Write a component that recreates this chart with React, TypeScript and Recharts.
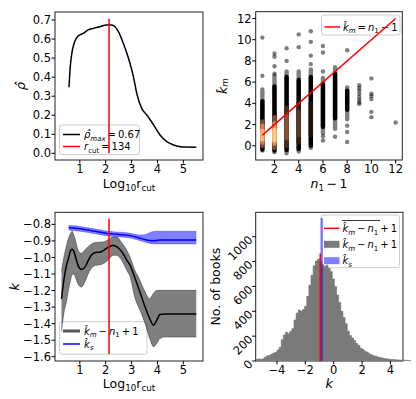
import React from "react";
import {
  ComposedChart,
  Line,
  Area,
  Scatter,
  XAxis,
  YAxis,
  ReferenceLine,
  ReferenceArea,
} from "recharts";

// ---- top-left: rho-hat vs log10 r_cut ----
const rhoX = [0.58, 0.63, 0.71, 0.8, 0.93, 1.13, 1.32, 1.52, 1.77, 2.03, 2.23, 2.36, 2.49, 2.68, 2.88, 3.07, 3.2, 3.39, 3.59, 3.85, 4.1, 4.36, 4.62, 4.88, 5.07, 5.5];
const rhoY = [0.347, 0.455, 0.54, 0.586, 0.616, 0.63, 0.648, 0.656, 0.665, 0.674, 0.674, 0.665, 0.639, 0.578, 0.499, 0.403, 0.315, 0.236, 0.201, 0.149, 0.096, 0.061, 0.044, 0.035, 0.033, 0.032];
const rCut = 134;
const rhoMax = 0.67;
const rhoLineTop = 0.707;
const logTicks = [1, 2, 3, 4, 5];
const rhoTicks = [0, 0.1, 0.2, 0.3, 0.4, 0.5, 0.6, 0.7];

// ---- top-right: k_m vs n1 - 1 ----
const colX = [1, 2, 3, 4, 5, 6, 7, 8];
const spreadLo = [-0.45, -0.6, -0.7, -0.55, -0.2, 1.2, 1.6, 2.5];
const spreadHi = [5.3, 6.6, 7.0, 7.0, 7.2, 6.4, 7.4, 5.5];
const coreLo = [-0.35, -0.45, -0.4, -0.3, 0.0, 1.8, 2.6, 3.4];
const coreHi = [4.2, 5.6, 6.5, 6.2, 6.5, 5.8, 6.8, 5.2];
const glowX = [1, 1, 1, 2, 2, 2, 3, 3, 4, 4, 5];
const glowLo = [0.0, 0.3, 0.6, -0.2, 0.2, 0.5, 0.0, 0.7, 0.3, 1.0, 1.0];
const glowHi = [2.3, 1.9, 1.4, 2.7, 2.1, 1.5, 3.6, 2.8, 4.0, 3.2, 4.0];
const glowDensity = [0.38, 0.65, 0.9, 0.38, 0.7, 1.0, 0.22, 0.42, 0.15, 0.28, 0.1];
const outlierX = [1, 1, 2, 2, 2, 2, 3, 3, 4, 4, 5, 5, 5, 5, 6, 6, 6, 6, 6, 7, 8, 8, 8, 8, 9, 9, 9, 9, 9, 9, 9, 9, 10, 10, 10, 10, 10, 10, 12];
const outlierY = [10.2, 6.6, 8.7, 8.4, 7.5, 6.8, 9.2, 8.0, 10.5, 9.3, 10.8, 9.8, 8.5, 7.7, 9.4, 8.8, 7.0, 0.9, 0.5, 0.85, 9.0, 1.9, 1.3, 0.35, 5.7, 5.45, 5.2, 4.9, 4.6, 4.35, 4.1, 3.95, 6.35, 4.9, 4.7, 4.4, 3.2, 2.7, 2.2];
const identityEnds = [1, 12];
const nTicks = [2, 4, 6, 8, 10, 12];
const kmTicks = [0, 2, 4, 6, 8, 10, 12];

// ---- bottom-left: k vs log10 r_cut ----
const kX = [0.29, 0.38, 0.48, 0.57, 0.64, 0.7, 0.76, 0.84, 0.93, 1.06, 1.19, 1.32, 1.45, 1.6, 1.8, 1.97, 2.12, 2.29, 2.42, 2.62, 2.81, 2.95, 3.12, 3.3, 3.5, 3.7, 3.85, 3.97, 4.1, 4.3, 5.5];
const kMean = [-1.25, -1.14, -1.05, -1.0, -0.96, -0.951, -0.96, -1.0, -1.048, -1.072, -1.06, -1.02, -0.985, -0.97, -0.967, -0.952, -0.937, -0.928, -0.935, -0.965, -1.015, -1.05, -1.12, -1.2, -1.29, -1.37, -1.41, -1.38, -1.345, -1.342, -1.342];
const kUpper = [-1.08, -1.0, -0.93, -0.88, -0.855, -0.842, -0.86, -0.9, -0.955, -0.975, -0.955, -0.935, -0.918, -0.91, -0.907, -0.903, -0.89, -0.876, -0.876, -0.91, -0.955, -1.0, -1.075, -1.13, -1.2, -1.25, -1.215, -1.2, -1.199, -1.199, -1.199];
const kLower = [-1.45, -1.34, -1.27, -1.19, -1.14, -1.105, -1.1, -1.125, -1.16, -1.179, -1.15, -1.1, -1.065, -1.048, -1.044, -1.032, -1.01, -0.987, -0.987, -1.018, -1.078, -1.12, -1.24, -1.31, -1.39, -1.49, -1.54, -1.52, -1.49, -1.481, -1.481];
const sMean = [null, null, null, -0.821, -0.821, -0.822, -0.822, -0.823, -0.825, -0.828, -0.831, -0.834, -0.838, -0.842, -0.847, -0.852, -0.856, -0.858, -0.86, -0.862, -0.865, -0.868, -0.874, -0.882, -0.892, -0.898, -0.899, -0.897, -0.895, -0.895, -0.895];
const sUpper = [null, null, null, -0.807, -0.807, -0.808, -0.808, -0.809, -0.811, -0.814, -0.817, -0.82, -0.824, -0.828, -0.833, -0.838, -0.842, -0.844, -0.846, -0.848, -0.851, -0.854, -0.86, -0.864, -0.862, -0.85, -0.843, -0.842, -0.842, -0.842, -0.842];
const sLower = [null, null, null, -0.836, -0.836, -0.837, -0.837, -0.838, -0.84, -0.843, -0.846, -0.849, -0.853, -0.857, -0.862, -0.867, -0.871, -0.873, -0.875, -0.877, -0.88, -0.883, -0.889, -0.897, -0.906, -0.915, -0.918, -0.918, -0.918, -0.918, -0.918];
const kLineLo = -1.584;
const kLineHi = -0.764;
const kTicks = [-1.6, -1.5, -1.4, -1.3, -1.2, -1.1, -1.0, -0.9, -0.8];

// ---- bottom-right: histogram ----
const binStart = -5.5;
const binWidth = 0.15;
const binCounts = [
  14, 16, 15, 17, 30, 40, 45, 55, 62, 70,
  88, 110, 170, 210, 232, 220, 238, 260, 330, 385,
  410, 400, 415, 440, 520, 610, 690, 765, 805, 820,
  800, 775, 760, 770, 745, 720, 660, 600, 530, 470,
  400, 350, 300, 240, 205, 185, 165, 140, 125, 102,
  92, 78, 70, 58, 50, 42, 38, 32, 28, 24,
  20, 18, 15, 13, 12, 10, 9, 8, 7, 7,
  6, 5, 4,
];
const meanK = -0.95;
const meanLineTop = 865;
const ksRange = [-0.92, -0.76];
const ksCount = 1150;
const histXTicks = [-4, -2, 0, 2, 4];
const histYTicks = [0, 200, 400, 600, 800, 1000];

const FONT = "'DejaVu Sans', sans-serif";
const tickStyle = { fill: "#000", fontSize: 11.5, fontFamily: FONT };
const fmt = (v: number, d: number) => {
  const s = Math.abs(v).toFixed(d);
  return v < -1e-9 ? `\u2212${s}` : s;
};
const copper = (t: number) => {
  const r = Math.min(1, 1.25 * t);
  return `rgb(${Math.round(r * 255)},${Math.round(0.7812 * t * 255)},${Math.round(0.4975 * t * 255)})`;
};

function RotTick({ x, y, payload }: any) {
  const ax = x;
  const ay = y + 1;
  return (
    <text x={ax} y={ay} textAnchor="end" dominantBaseline="central" transform={`rotate(-45 ${ax} ${ay})`} {...tickStyle}>
      {payload.value}
    </text>
  );
}

const Frame = ({ x, y, w, h }: { x: number; y: number; w: number; h: number }) => (
  <rect x={x} y={y} width={w} height={h} fill="none" stroke="#222" strokeWidth={1} />
);
const LegendBox = ({ x, y, w, h }: { x: number; y: number; w: number; h: number }) => (
  <rect x={x} y={y} width={w} height={h} rx={2.5} fill="#fff" fillOpacity={0.8} stroke="#ccc" strokeWidth={1} />
);

const axisCommon = {
  tick: tickStyle,
  tickSize: 3.5,
  axisLine: false,
  tickLine: { stroke: "#000" },
  allowDataOverflow: true,
  interval: 0 as const,
};

const LogLabel = () => (
  <text x={129} y={188} textAnchor="middle" fontSize={12.5} fontFamily={FONT}>
    Log<tspan fontSize={8.75} dy={3}>10</tspan>
    <tspan dy={-3}>r</tspan>
    <tspan fontSize={8.75} dy={3}>cut</tspan>
  </text>
);

function RhoPanel() {
  const data = rhoX.map((x, i) => ({ x, y: rhoY[i] }));
  const xc = Math.log10(rCut);
  return (
    <ComposedChart width={208} height={200} data={data} margin={{ top: 12, right: 5, bottom: 10, left: 15 }}>
      <XAxis type="number" dataKey="x" domain={[0.04, 5.76]} ticks={logTicks} tickMargin={1.5} height={30} {...axisCommon} />
      <YAxis type="number" domain={[-0.035, 0.742]} ticks={rhoTicks} tickFormatter={(v: number) => v.toFixed(1)} tickMargin={0.5} width={40} {...axisCommon} />
      <Line type="monotone" dataKey="y" stroke="#000" strokeWidth={1.5} dot={false} activeDot={false} isAnimationActive={false} />
      <ReferenceLine segment={[{ x: xc, y: 0 }, { x: xc, y: rhoLineTop }]} stroke="#ff0000" strokeWidth={1.5} />
      <Frame x={55} y={12} w={148} h={148} />
      <LegendBox x={59.5} y={125} w={80} h={29.5} />
      <line x1={63} x2={80} y1={134.5} y2={134.5} stroke="#000" strokeWidth={1.5} />
      <text x={84} y={138} fontSize={10} fontFamily={FONT}>
        <tspan fontStyle="italic">{"\u03c1\u0302"}</tspan>
        <tspan fontStyle="italic" fontSize={7} dy={2.5}>max</tspan>
        <tspan dy={-2.5}>{`\u2009=\u2009${rhoMax.toFixed(2)}`}</tspan>
      </text>
      <line x1={63} x2={80} y1={146.5} y2={146.5} stroke="#ff0000" strokeWidth={1.5} />
      <text x={84} y={150} fontSize={10} fontFamily={FONT}>
        <tspan fontStyle="italic">r</tspan>
        <tspan fontSize={7} dy={2.5}>cut</tspan>
        <tspan dy={-2.5}>{`\u2009=\u2009${rCut}`}</tspan>
      </text>
      <LogLabel />
      <text transform="translate(20,86) rotate(-90)" textAnchor="middle" dominantBaseline="central" fontSize={13} fontStyle="italic" fontFamily={FONT}>
        {"\u03c1\u0302"}
      </text>
    </ComposedChart>
  );
}

function ScatterPanel() {
  const outliers = outlierX.map((x, i) => ({ x, y: outlierY[i] }));
  const identity = identityEnds.map((v) => ({ x: v, y: v }));
  return (
    <ComposedChart width={208} height={200} margin={{ top: 11.7, right: 13.7, bottom: 10, left: 11.7 }}>
      <XAxis type="number" dataKey="x" domain={[0.45, 12.55]} ticks={nTicks} tickMargin={1.5} height={30} {...axisCommon} />
      <YAxis type="number" dataKey="y" domain={[-1.34, 12.64]} ticks={kmTicks} tickMargin={0.5} width={36} {...axisCommon} />
      {colX.map((x, i) => (
        <Line key={`sp${i}`} data={[{ x, y: spreadLo[i] }, { x, y: spreadHi[i] }]} dataKey="y" stroke="#000" strokeOpacity={0.5} strokeWidth={4.4} strokeLinecap="round" dot={false} activeDot={false} isAnimationActive={false} />
      ))}
      {colX.map((x, i) => (
        <Line key={`co${i}`} data={[{ x, y: coreLo[i] }, { x, y: coreHi[i] }]} dataKey="y" stroke="#000" strokeWidth={4.4} strokeLinecap="round" dot={false} activeDot={false} isAnimationActive={false} />
      ))}
      {glowX.map((x, i) => (
        <Line key={`gl${i}`} data={[{ x, y: glowLo[i] }, { x, y: glowHi[i] }]} dataKey="y" stroke={copper(glowDensity[i])} strokeWidth={4.4} strokeLinecap="round" dot={false} activeDot={false} isAnimationActive={false} />
      ))}
      <Scatter
        data={outliers}
        isAnimationActive={false}
        shape={(p: any) => <circle cx={p.cx} cy={p.cy} r={2.2} fill="#000" fillOpacity={0.5} />}
      />
      <Line data={identity} dataKey="y" stroke="#ff0000" strokeWidth={1.5} dot={false} activeDot={false} isAnimationActive={false} />
      <Frame x={47.7} y={11.7} w={146.6} h={148.3} />
      <LegendBox x={113.5} y={15} w={78.5} h={20} />
      <line x1={116.5} x2={132} y1={27} y2={27} stroke="#ff0000" strokeWidth={1.5} />
      <text x={135} y={30.5} fontSize={10} fontFamily={FONT}>
        <tspan fontStyle="italic">{"k\u0302"}</tspan>
        <tspan fontStyle="italic" fontSize={7} dy={2.5}>m</tspan>
        <tspan dy={-2.5}>{"\u2009=\u2009"}</tspan>
        <tspan fontStyle="italic">n</tspan>
        <tspan fontSize={7} dy={2.5}>1</tspan>
        <tspan dy={-2.5}>{"\u2009\u2212\u20091"}</tspan>
      </text>
      <text x={121} y={188} textAnchor="middle" fontSize={12.5} fontFamily={FONT}>
        <tspan fontStyle="italic">n</tspan>
        <tspan fontSize={8.75} dy={3}>1</tspan>
        <tspan dy={-3}>{"\u2009\u2212\u20091"}</tspan>
      </text>
      <text transform="translate(14,86) rotate(-90)" textAnchor="middle" dominantBaseline="central" fontSize={12.5} fontFamily={FONT}>
        <tspan fontStyle="italic">{"k\u0302"}</tspan>
        <tspan fontStyle="italic" fontSize={8.75} dy={3}>m</tspan>
      </text>
    </ComposedChart>
  );
}

function KPanel() {
  const data = kX.map((x, i) => ({
    x,
    mean: kMean[i],
    band: [kLower[i], kUpper[i]],
    s: sMean[i],
    sBand: sMean[i] == null ? null : [sLower[i], sUpper[i]],
  }));
  const xc = Math.log10(rCut);
  return (
    <ComposedChart width={208} height={200} data={data} margin={{ top: 12.3, right: 5, bottom: 9, left: 15 }}>
      <XAxis type="number" dataKey="x" domain={[0.04, 5.76]} ticks={logTicks} tickMargin={1.5} height={30} {...axisCommon} />
      <YAxis type="number" domain={[-1.626, -0.727]} ticks={kTicks} tickFormatter={(v: number) => fmt(v, 1)} tickMargin={0.5} width={40} {...axisCommon} />
      <Area type="monotone" dataKey="band" fill="#000" fillOpacity={0.5} stroke="#000" strokeOpacity={0.35} strokeWidth={1} activeDot={false} isAnimationActive={false} />
      <Area type="monotone" dataKey="sBand" fill="#0000ff" fillOpacity={0.5} stroke="#0000ff" strokeOpacity={0.3} strokeWidth={1} activeDot={false} isAnimationActive={false} />
      <Line type="monotone" dataKey="mean" stroke="#000" strokeWidth={1.5} dot={false} activeDot={false} isAnimationActive={false} />
      <Line type="monotone" dataKey="s" stroke="#0000ff" strokeWidth={1.5} dot={false} activeDot={false} isAnimationActive={false} />
      <ReferenceLine segment={[{ x: xc, y: kLineLo }, { x: xc, y: kLineHi }]} stroke="#ff0000" strokeWidth={1.5} />
      <Frame x={55} y={12.3} w={148} h={148.7} />
      <LegendBox x={59.5} y={121.7} w={87.5} h={32.5} />
      <line x1={63} x2={80} y1={131} y2={131} stroke="#555" strokeWidth={3} />
      <text x={84} y={134.5} fontSize={10} fontFamily={FONT}>
        <tspan fontStyle="italic">{"k\u0302"}</tspan>
        <tspan fontStyle="italic" fontSize={7} dy={2.5}>m</tspan>
        <tspan dy={-2.5}>{"\u2009\u2212\u2009"}</tspan>
        <tspan fontStyle="italic">n</tspan>
        <tspan fontSize={7} dy={2.5}>1</tspan>
        <tspan dy={-2.5}>{"\u2009+\u20091"}</tspan>
      </text>
      <line x1={63} x2={80} y1={144} y2={144} stroke="#0000ff" strokeWidth={1.5} />
      <text x={84} y={147.5} fontSize={10} fontFamily={FONT}>
        <tspan fontStyle="italic">{"k\u0302"}</tspan>
        <tspan fontStyle="italic" fontSize={7} dy={2.5}>s</tspan>
      </text>
      <LogLabel />
      <text transform="translate(14,86.7) rotate(-90)" textAnchor="middle" dominantBaseline="central" fontSize={13} fontStyle="italic" fontFamily={FONT}>
        k
      </text>
    </ComposedChart>
  );
}

function HistPanel() {
  // step outline: each bin's left edge carries its count, last edge closes the final bin
  const data = binCounts.map((count, i) => ({ edge: binStart + i * binWidth, count }));
  const binEnd = binStart + binCounts.length * binWidth;
  data.push({ edge: binEnd, count: binCounts[binCounts.length - 1] });
  return (
    <ComposedChart width={208} height={200} data={data} margin={{ top: 12.3, right: 5, bottom: 9, left: 11.7 }}>
      <XAxis type="number" dataKey="edge" domain={[binStart, binEnd]} ticks={histXTicks} tickFormatter={(v: number) => fmt(v, 0)} tickMargin={1.5} height={30} {...axisCommon} />
      <YAxis type="number" domain={[0, 1196]} ticks={histYTicks} tick={<RotTick />} tickSize={3.5} tickMargin={1.5} axisLine={false} tickLine={{ stroke: "#000" }} allowDataOverflow interval={0} width={36} />
      <Area type="stepAfter" dataKey="count" fill="#7a7a7a" fillOpacity={1} stroke="#6e6e6e" strokeWidth={0.6} activeDot={false} isAnimationActive={false} />
      <ReferenceArea x1={ksRange[0]} x2={ksRange[1]} y1={0} y2={ksCount} fill="#0000ff" fillOpacity={0.5} stroke="none" />
      <ReferenceLine segment={[{ x: meanK, y: 0 }, { x: meanK, y: meanLineTop }]} stroke="#ff0000" strokeWidth={1.5} />
      <Frame x={47.7} y={12.3} w={147.3} h={148.7} />
      <LegendBox x={113} y={15} w={78.5} h={52.7} />
      <line x1={116} x2={131.5} y1={28.3} y2={28.3} stroke="#ff0000" strokeWidth={1.5} />
      <line x1={134} x2={172} y1={20.5} y2={20.5} stroke="#000" strokeWidth={0.8} />
      <text x={134.5} y={32} fontSize={10} fontFamily={FONT}>
        <tspan fontStyle="italic">{"k\u0302"}</tspan>
        <tspan fontStyle="italic" fontSize={7} dy={2.5}>m</tspan>
        <tspan dy={-2.5}>{"\u2009\u2212\u2009"}</tspan>
        <tspan fontStyle="italic">n</tspan>
        <tspan fontSize={7} dy={2.5}>1</tspan>
        <tspan dy={-2.5}>{"\u2009+\u20091"}</tspan>
      </text>
      <rect x={116} y={40.8} width={15.5} height={7} fill="#7a7a7a" />
      <text x={134.5} y={48} fontSize={10} fontFamily={FONT}>
        <tspan fontStyle="italic">{"k\u0302"}</tspan>
        <tspan fontStyle="italic" fontSize={7} dy={2.5}>m</tspan>
        <tspan dy={-2.5}>{"\u2009\u2212\u2009"}</tspan>
        <tspan fontStyle="italic">n</tspan>
        <tspan fontSize={7} dy={2.5}>1</tspan>
        <tspan dy={-2.5}>{"\u2009+\u20091"}</tspan>
      </text>
      <rect x={116} y={57.2} width={15.5} height={7} fill="#0000ff" fillOpacity={0.5} />
      <text x={134.5} y={64} fontSize={10} fontFamily={FONT}>
        <tspan fontStyle="italic">{"k\u0302"}</tspan>
        <tspan fontStyle="italic" fontSize={7} dy={2.5}>s</tspan>
      </text>
      <text x={121.3} y={188} textAnchor="middle" fontSize={13} fontStyle="italic" fontFamily={FONT}>
        k
      </text>
      <text transform="translate(7.5,86.7) rotate(-90)" textAnchor="middle" dominantBaseline="central" fontSize={12.5} fontFamily={FONT}>
        No. of books
      </text>
    </ComposedChart>
  );
}

export default function App() {
  const cell = (left: number, top: number): React.CSSProperties => ({ position: "absolute", left, top, width: 208, height: 200 });
  return (
    <div style={{ position: "absolute", left: 0, top: 0, width: 416, height: 399, background: "#fff", fontFamily: FONT, overflow: "hidden" }}>
      <div style={cell(0, 0)}>
        <RhoPanel />
      </div>
      <div style={cell(208, 0)}>
        <ScatterPanel />
      </div>
      <div style={cell(0, 200)}>
        <KPanel />
      </div>
      <div style={cell(208, 200)}>
        <HistPanel />
      </div>
    </div>
  );
}
